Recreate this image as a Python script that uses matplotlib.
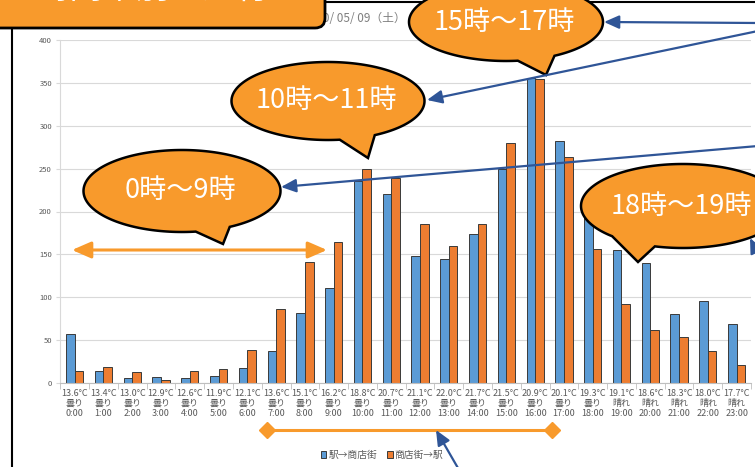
import numpy as np
import matplotlib
matplotlib.use('Agg')
import matplotlib.pyplot as plt
from matplotlib.patches import Polygon, FancyBboxPatch, Rectangle, Patch

plt.rcParams['font.family'] = ['Noto Sans CJK JP', 'DejaVu Sans']

# --- data ---
hours = ['0:00', '1:00', '2:00', '3:00', '4:00', '5:00', '6:00', '7:00',
         '8:00', '9:00', '10:00', '11:00', '12:00', '13:00', '14:00', '15:00',
         '16:00', '17:00', '18:00', '19:00', '20:00', '21:00', '22:00', '23:00']
temps = [13.6, 13.4, 13.0, 12.9, 12.6, 11.9, 12.1, 13.6, 15.1, 16.2, 18.8, 20.7,
         21.1, 22.0, 21.7, 21.5, 20.9, 20.1, 19.3, 19.1, 18.6, 18.3, 18.0, 17.7]
weather = ['曇り', '曇り', '曇り', '曇り', '曇り', '曇り', '曇り', '曇り',
           '曇り', '曇り', '曇り', '曇り', '曇り', '曇り', '曇り', '曇り',
           '曇り', '曇り', '曇り', '晴れ', '晴れ', '晴れ', '晴れ', '晴れ']
to_shop = [57, 14, 6, 7, 6, 8, 18, 37, 82, 111, 236, 220,
           148, 145, 174, 249, 356, 282, 196, 155, 140, 81, 96, 69]
to_station = [14, 19, 13, 3, 14, 16, 38, 86, 141, 164, 250, 239,
              185, 160, 186, 280, 354, 264, 156, 92, 62, 54, 37, 21]
series_names = ['駅→商店街', '商店街→駅']

BLUE = '#5B9BD5'
ORANGE = '#ED7D31'
CALLOUT = '#F89A2C'
ARROW_BLUE = '#2F5597'
W, H = 755, 467

fig = plt.figure(figsize=(W / 100, H / 100), dpi=100)
fig.patch.set_facecolor('white')

# chart area
ax = fig.add_axes([60.3 / W, (H - 383) / H, (751 - 60.3) / W, (383 - 40) / H])
x = np.arange(len(hours))
bw = 0.3
ax.bar(x - bw / 2, to_shop, bw, color=BLUE, edgecolor='#3a3a3a', linewidth=0.7)
ax.bar(x + bw / 2, to_station, bw, color=ORANGE, edgecolor='#3a3a3a', linewidth=0.7)
ax.set_xlim(-0.5, len(hours) - 0.5)
ax.set_ylim(0, 400)
ax.set_yticks(np.arange(0, 401, 50))
ax.yaxis.grid(True, color='#D9D9D9', lw=0.8)
ax.set_axisbelow(True)
for s in ['top', 'right']:
    ax.spines[s].set_visible(False)
ax.spines['left'].set_color('#D9D9D9')
ax.spines['bottom'].set_color('#BFBFBF')
ax.set_xticks(x)
ax.set_xticklabels([f"{t:.1f}°C\n{wx}\n{h}" for t, wx, h in zip(temps, weather, hours)],
                   fontsize=6.5, color='#595959', linespacing=1.2)
ax.set_xticks(np.arange(-0.5, len(hours), 1), minor=True)
ax.tick_params(axis='x', which='major', length=0, pad=4)
ax.tick_params(axis='x', which='minor', length=4, color='#BFBFBF')
ax.tick_params(axis='y', length=3, color='#D9D9D9', labelsize=5.5,
               labelcolor='#595959', pad=3)

fig.legend(handles=[Patch(facecolor=BLUE, edgecolor='#3a3a3a', lw=0.7),
                    Patch(facecolor=ORANGE, edgecolor='#3a3a3a', lw=0.7)],
           labels=series_names, loc='center', bbox_to_anchor=(382 / W, 1 - 455 / H),
           ncol=2, frameon=False, fontsize=7, handlelength=0.6, handleheight=0.6,
           handletextpad=0.2, columnspacing=1.0, labelcolor='#595959')

# overlay in pixel coords (y down)
ov = fig.add_axes([0, 0, 1, 1], zorder=5)
ov.set_xlim(0, W)
ov.set_ylim(H, 0)
ov.axis('off')
ov.patch.set_alpha(0)

# black frame of the pasted chart
ov.add_patch(Rectangle((12, 2), 800, 500, fill=False, ec='black', lw=1.5))

ov.text(406, 19, '2020/ 05/ 09（土）', ha='right', va='center', fontsize=8.5,
        color='#7f7f7f')

# title box (cut off at the top)
ov.add_patch(FancyBboxPatch((-20, -30), 345, 58, boxstyle='round,pad=0,rounding_size=10',
                            fc=CALLOUT, ec='black', lw=2, zorder=6))
ov.text(170, -12, '時間帯別の通行量', ha='center', va='center', fontsize=24,
        color='white', zorder=7)


def bubble(cx, cy, w, h, a1, a2, tip, label):
    t = np.radians(np.linspace(a2, a1 + 360, 200))
    pts = np.column_stack([cx + w / 2 * np.cos(t), cy + h / 2 * np.sin(t)])
    pts = np.vstack([pts, tip])
    ov.add_patch(Polygon(pts, closed=True, fc=CALLOUT, ec='black', lw=1.8, zorder=6))
    ov.text(cx - 2, cy, label, ha='center', va='center', fontsize=19.5,
            color='white', zorder=7)


def blue_arrow(start, end):
    ov.annotate('', xy=end, xytext=start, zorder=8, annotation_clip=False,
                arrowprops=dict(arrowstyle='-|>,head_length=0.9,head_width=0.4',
                                mutation_scale=10, color=ARROW_BLUE, lw=1.6,
                                shrinkA=0, shrinkB=0))


bubble(506, 22, 194, 78, 60, 83, (546, 75), '15時～17時')
bubble(328, 101, 193, 78, 61, 83, (368, 158), '10時～11時')
bubble(182, 191, 197, 82, 61, 82, (223, 244), '0時～9時')
bubble(683, 206, 204, 84, 106, 134, (638, 262), '18時～19時')

blue_arrow((758, 23), (604, 22))
blue_arrow((758, 31), (427, 100))
blue_arrow((758, 146), (281, 187))
blue_arrow((775, 290), (750, 238))
blue_arrow((462, 475), (436, 430))

# orange range markers
ov.annotate('', xy=(327, 250), xytext=(72, 250), zorder=4,
            arrowprops=dict(arrowstyle='<|-|>,head_length=1.15,head_width=0.5',
                            mutation_scale=10, color=CALLOUT, lw=2.2,
                            shrinkA=0, shrinkB=0))
ov.plot([267, 552], [430, 430], color=CALLOUT, lw=2.2, marker='D',
        markersize=8, zorder=4)

fig.savefig('out.png', dpi=100)
